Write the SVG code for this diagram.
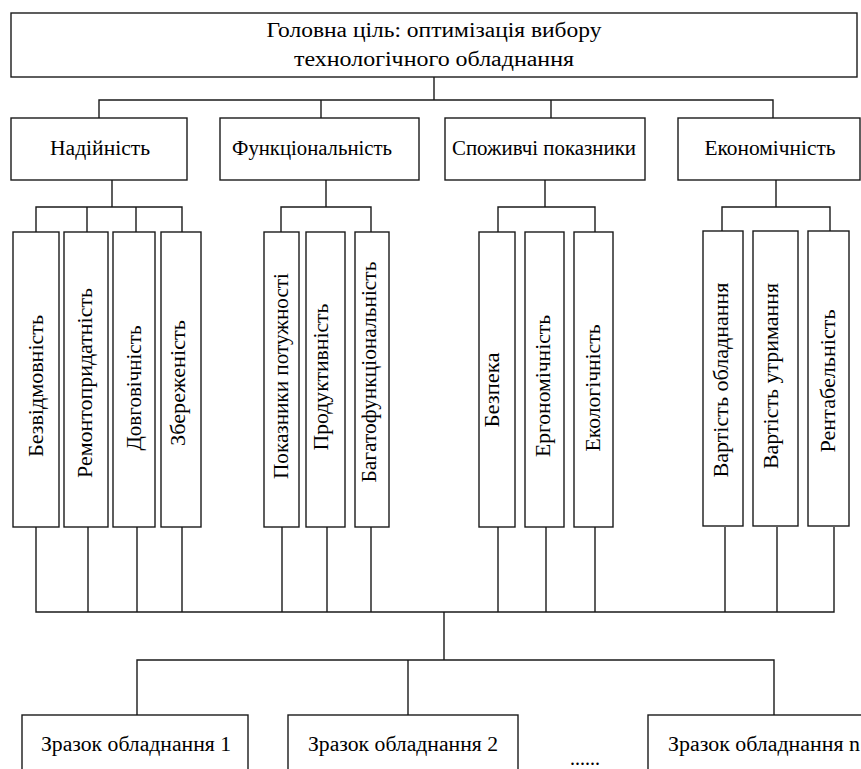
<svg xmlns="http://www.w3.org/2000/svg" width="861" height="769" viewBox="0 0 861 769">
<style>
.b{fill:#fff;stroke:#1a1a1a;stroke-width:1.4}
.c path{fill:none;stroke:#1a1a1a;stroke-width:1.4}
text{font-family:"Liberation Serif","Times New Roman",serif;font-size:20px;fill:#000;text-anchor:middle}
</style>
<rect width="861" height="769" fill="#fff"/>
<g class="c" id="connectors">
<path d="M434 77V100M99 118V100H773V118M321 100V118M551 100V118"/>
<path d="M112 180V207M36 232V207H182V232M87 207V232M136 207V232"/>
<path d="M326 180V207M281 232V207H371V232"/>
<path d="M545 180V207M498 232V207H595V232"/>
<path d="M776 180V207M722 232V207H830V232"/>
<path d="M36 527V612H834V527M88 527V612M137 527V612M182 527V612M282 527V612M327 527V612M371 527V612M498 527V612M546 527V612M595 527V612M725 527V612M777 527V612"/>
<path d="M444 612V660M137 715V660H774V715M408 660V715"/>
</g>
<g id="goal"><rect class="b" x="11" y="13" width="846" height="64"/><text x="434" y="37" textLength="335" lengthAdjust="spacingAndGlyphs">Головна ціль: оптимізація вибору</text><text x="434" y="66" textLength="280" lengthAdjust="spacingAndGlyphs">технологічного обладнання</text></g>
<g id="n1"><rect class="b" x="11" y="118" width="176" height="62"/><text x="100" y="155" textLength="100" lengthAdjust="spacingAndGlyphs">Надійність</text></g>
<g id="n2"><rect class="b" x="220" y="118" width="199" height="62"/><text x="312" y="155" textLength="160" lengthAdjust="spacingAndGlyphs">Функціональність</text></g>
<g id="n3"><rect class="b" x="445" y="118" width="200" height="62"/><text x="544" y="155" textLength="184" lengthAdjust="spacingAndGlyphs">Споживчі показники</text></g>
<g id="n4"><rect class="b" x="678" y="118" width="182" height="62"/><text x="770" y="155" textLength="131" lengthAdjust="spacingAndGlyphs">Економічність</text></g>
<g id="s1"><rect class="b" x="13" y="232" width="46" height="295"/><text transform="translate(43 386) rotate(-90)" textLength="142" lengthAdjust="spacingAndGlyphs">Безвідмовність</text></g>
<g id="s2"><rect class="b" x="64" y="232" width="44" height="295"/><text transform="translate(92 383) rotate(-90)" textLength="190" lengthAdjust="spacingAndGlyphs">Ремонтопридатність</text></g>
<g id="s3"><rect class="b" x="113" y="232" width="42" height="295"/><text transform="translate(141 388) rotate(-90)" textLength="125" lengthAdjust="spacingAndGlyphs">Довговічність</text></g>
<g id="s4"><rect class="b" x="161" y="232" width="40" height="295"/><text transform="translate(185 383) rotate(-90)" textLength="126" lengthAdjust="spacingAndGlyphs">Збереженість</text></g>
<g id="s5"><rect class="b" x="264" y="232" width="35" height="295"/><text transform="translate(288 376) rotate(-90)" textLength="206" lengthAdjust="spacingAndGlyphs">Показники потужності</text></g>
<g id="s6"><rect class="b" x="306" y="232" width="39" height="295"/><text transform="translate(328 377) rotate(-90)" textLength="147" lengthAdjust="spacingAndGlyphs">Продуктивність</text></g>
<g id="s7"><rect class="b" x="355" y="232" width="34" height="295"/><text transform="translate(376 372) rotate(-90)" textLength="221" lengthAdjust="spacingAndGlyphs">Багатофункціональність</text></g>
<g id="s8"><rect class="b" x="479" y="232" width="36" height="295"/><text transform="translate(499 390) rotate(-90)" textLength="75" lengthAdjust="spacingAndGlyphs">Безпека</text></g>
<g id="s9"><rect class="b" x="525" y="232" width="39" height="295"/><text transform="translate(550 386) rotate(-90)" textLength="142" lengthAdjust="spacingAndGlyphs">Ергономічність</text></g>
<g id="s10"><rect class="b" x="574" y="232" width="39" height="295"/><text transform="translate(600 388) rotate(-90)" textLength="127" lengthAdjust="spacingAndGlyphs">Екологічність</text></g>
<g id="s11"><rect class="b" x="703" y="231" width="40" height="295"/><text transform="translate(728 380) rotate(-90)" textLength="195" lengthAdjust="spacingAndGlyphs">Вартість обладнання</text></g>
<g id="s12"><rect class="b" x="753" y="231" width="45" height="295"/><text transform="translate(778 376) rotate(-90)" textLength="186" lengthAdjust="spacingAndGlyphs">Вартість утримання</text></g>
<g id="s13"><rect class="b" x="808" y="231" width="41" height="295"/><text transform="translate(835 381) rotate(-90)" textLength="143" lengthAdjust="spacingAndGlyphs">Рентабельність</text></g>
<g id="e1"><rect class="b" x="22" y="715" width="226" height="70"/><text x="136" y="751" textLength="190" lengthAdjust="spacingAndGlyphs">Зразок обладнання 1</text></g>
<g id="e2"><rect class="b" x="288" y="715" width="230" height="70"/><text x="403" y="751" textLength="190" lengthAdjust="spacingAndGlyphs">Зразок обладнання 2</text></g>
<g id="dots"><text x="585" y="765" textLength="30" lengthAdjust="spacingAndGlyphs">......</text></g>
<g id="en"><rect class="b" x="648" y="715" width="230" height="70"/><text x="668" y="751" style="text-anchor:start" textLength="192" lengthAdjust="spacingAndGlyphs">Зразок обладнання n</text></g>
</svg>
